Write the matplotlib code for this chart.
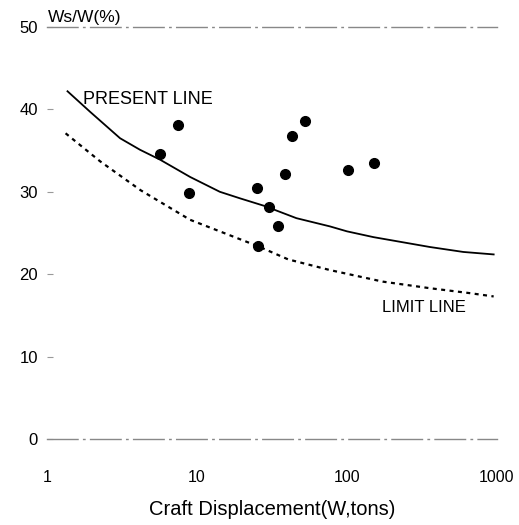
import matplotlib.pyplot as plt
from matplotlib.ticker import FixedLocator, NullLocator

plt.rcParams['font.family'] = ['Liberation Sans', 'DejaVu Sans']

# measured craft data
craft_w = [5.7, 7.5, 8.9, 25.0, 25.5, 30.3, 34.8, 38.6, 42.8, 52.5, 102, 151]
craft_ratio = [34.6, 38.1, 29.9, 30.5, 23.4, 28.2, 25.8, 32.2, 36.8, 38.6, 32.7, 33.5]

# present line
present_w = [1.37, 1.94, 3.07, 4.17, 5.67, 9.0, 14.2, 19.4, 28, 46, 77, 100, 150, 357, 596, 950]
present_ratio = [42.2, 39.7, 36.5, 35.1, 33.9, 31.8, 30.0, 29.2, 28.3, 26.8, 25.8, 25.2, 24.5, 23.3, 22.7, 22.4]

# limit line
limit_w = [1.33, 2.26, 4.2, 9.0, 18.4, 25.5, 40.5, 77, 173, 357, 660, 950]
limit_ratio = [37.1, 33.7, 30.2, 26.6, 24.4, 23.4, 21.8, 20.5, 19.1, 18.3, 17.7, 17.3]

x_ticks = [1, 10, 100, 1000]
y_ticks = [0, 10, 20, 30, 40, 50]

fig = plt.figure(figsize=(5.19, 5.25), dpi=100)
ax = fig.add_axes([47 / 519, 86 / 525, 450 / 519, 412 / 525])

ax.plot(present_w, present_ratio, color='black', linewidth=1.3)
ax.plot(limit_w, limit_ratio, color='black', linewidth=1.6, linestyle=(0, (1.8, 2)))
ax.plot(craft_w, craft_ratio, 'o', color='black', markersize=7)

ax.set_xscale('log')
ax.set_xlim(1, 1000)
ax.set_ylim(0, 50)
ax.xaxis.set_major_locator(FixedLocator(x_ticks))
ax.xaxis.set_minor_locator(NullLocator())
ax.set_xticklabels([str(t) for t in x_ticks])
ax.set_yticks(y_ticks)
ax.tick_params(axis='x', length=0, pad=22, labelsize=11.5)
ax.tick_params(axis='y', direction='in', length=4, width=0.8, color='#999999', pad=6.5, labelsize=12)

for side in ['left', 'right']:
    ax.spines[side].set_visible(False)
for side in ['top', 'bottom']:
    ax.spines[side].set_color('#888888')
    ax.spines[side].set_linewidth(1.0)
    ax.spines[side].set_linestyle((0, (22, 4, 1, 4)))

ax.text(0.003, 50.3, 'Ws/W(%)', fontsize=12.5, ha='left', va='bottom', transform=ax.get_yaxis_transform())
ax.text(1.75, 41.2, 'PRESENT LINE', fontsize=13, ha='left', va='center')
ax.text(171, 16.0, 'LIMIT LINE', fontsize=12, ha='left', va='center')

ax.set_xlabel('Craft Displacement(W,tons)', fontsize=14.5, labelpad=11)

fig.savefig('out.png', dpi=100)
